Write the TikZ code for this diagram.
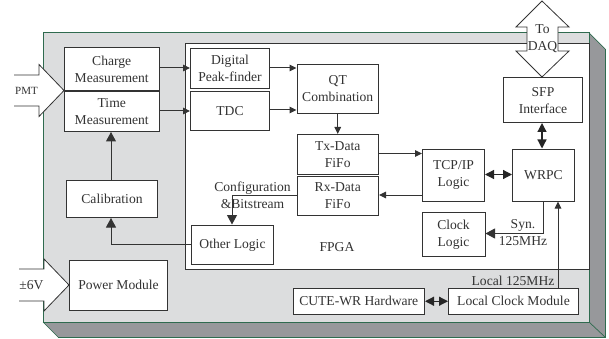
\documentclass[tikz,border=0pt]{standalone}
\usepackage{fontspec}
\setmainfont{Liberation Serif}
\usetikzlibrary{arrows.meta}
\definecolor{panelfill}{HTML}{DCDDDE}
\definecolor{sidefill}{HTML}{97989B}
\definecolor{paneledge}{HTML}{2F6B4F}
\definecolor{ink}{HTML}{333333}
\tikzset{
 x=1pt,y=-1pt,
 lbl/.style={font=\fontsize{13.6}{17}\selectfont,text=ink,align=center,inner sep=0pt},
 smalllbl/.style={font=\fontsize{11}{14}\selectfont,text=ink,inner sep=0pt},
 block/.style={draw=ink,line width=1pt,fill=white,lbl},
 conn/.style={draw=ink,line width=1pt,-{Triangle[length=7pt,width=6.5pt]}},
 bigconn/.style={draw=ink,line width=1pt,-{Triangle[length=9.5pt,width=10pt]}},
 dbl/.style={draw=black!85,line width=1.2pt,{Triangle[length=9pt,width=9pt]}-{Triangle[length=9pt,width=9pt]}},
 bigarrow/.style={draw=ink,line width=.8pt,fill=white},
}
\newcommand{\boxnode}[6]{\node[block,minimum width=#4pt-#3pt,minimum height=#6pt-#5pt,anchor=north west] (#1) at (#3,#5) {#2};}
\begin{document}
\begin{tikzpicture}
\useasboundingbox (0,0) rectangle (609,339);
% board
\fill[sidefill] (589,33) -- (605,49) -- (605,337) -- (58,337) -- (43,322) -- (589,322) -- cycle;
\draw[paneledge,line width=.7pt] (58,337) -- (605,337) -- (605,49);
\draw[paneledge,line width=1pt,fill=panelfill] (43,322) -- (43,33) -- (589,33) -- (589,322) -- cycle;
\draw[paneledge,line width=.7pt] (589,33) -- (605,49) (589,322) -- (605,337) (43,322) -- (58,337);
% FPGA
\node[draw=ink,line width=1pt,fill=white,minimum width=404pt,minimum height=226pt,anchor=north west,inner sep=0pt] (fpga) at (185,43) {};
\node[lbl] (fpgalabel) at (337,247) {FPGA};
% blocks
\boxnode{charge}{Charge\\Measurement}{64}{158.5}{47}{90}
\boxnode{time}{Time\\Measurement}{64}{158.5}{91}{131}
\boxnode{digital}{Digital\\Peak-finder}{190}{269}{48.5}{88}
\boxnode{tdc}{TDC}{190}{269}{91}{130}
\boxnode{qt}{QT\\Combination}{296.5}{378}{64}{113}
\boxnode{tx}{Tx-Data\\FiFo}{296.5}{378}{134}{173.5}
\boxnode{rx}{Rx-Data\\FiFo}{296.5}{378}{176}{215}
\boxnode{tcp}{TCP/IP\\Logic}{422}{484}{148.5}{200.5}
\boxnode{wrpc}{WRPC}{512}{574}{148.5}{200.5}
\boxnode{sfp}{SFP\\Interface}{503}{582}{77.5}{122}
\boxnode{clock}{Clock\\Logic}{421.5}{484.5}{211.5}{256}
\boxnode{other}{Other Logic}{191}{273}{224.5}{264}
\boxnode{calib}{Calibration}{66}{157}{179.5}{217}
\boxnode{power}{Power Module}{69}{167}{259.5}{310}
\boxnode{cute}{CUTE-WR Hardware}{292.5}{424}{287.5}{314}
\boxnode{localclk}{Local Clock Module}{448}{578}{287.5}{314}
% large arrows
\draw[bigarrow] (14,75) -- (39,75) -- (39,64.5) -- (64,90.5) -- (39,116.5) -- (39,106) -- (14,106);
\node[smalllbl] (pmt) at (26.5,90.5) {PMT};
\draw[bigarrow] (19,269) -- (44,269) -- (44,259) -- (69,285) -- (44,311) -- (44,301) -- (19,301);
\node[lbl] (sixv) at (31.5,285) {±6V};
\draw[bigarrow] (542,1) -- (569,27) -- (558,27) -- (558,51) -- (569,51) -- (542,77) -- (516,51) -- (527,51) -- (527,27) -- (516,27) -- cycle;
\node[lbl] (daq) at (542.5,38.5) {To\\DAQ};
% connectors
\draw[conn] (charge.east |- 0,68) -- (digital.west |- 0,68);
\draw[conn] (time.east |- 0,111) -- (tdc.west |- 0,111);
\draw[conn] (digital.east |- 0,68) -- (qt.west |- 0,68);
\draw[conn] (tdc.east |- 0,110) -- (qt.west |- 0,110);
\draw[conn] (qt) -- (tx);
\draw[conn] (tx.east |- 0,153.5) -- (tcp.west |- 0,153.5);
\draw[conn] (tcp.west |- 0,195) -- (rx.east |- 0,195);
\draw[dbl] (tcp.east |- 0,174.5) -- (wrpc.west |- 0,174.5);
\draw[dbl] (sfp.south -| 542,0) -- (wrpc.north -| 542,0);
\draw[bigconn] (calib.north -| 111,0) -- (time.south -| 111,0);
\draw[bigconn] (other.west |- 0,244) -| (calib.south -| 111,0);
\draw[bigconn] (rx.west |- 0,195) -| (other.north -| 232,0);
\draw[bigconn] (wrpc.south -| 543,0) |- (clock.east |- 0,233.5);
\draw[conn] (localclk.north -| 558,0) -- (wrpc.south -| 558,0);
\draw[dbl] (cute) -- (localclk);
% labels
\node[lbl] (cfg) at (252.5,195) {Configuration\\\&Bitstream};
\node[lbl] (syn) at (523,233) {Syn.\\125MHz};
\node[lbl] (local) at (513,280.5) {Local 125MHz};
\end{tikzpicture}
\end{document}
